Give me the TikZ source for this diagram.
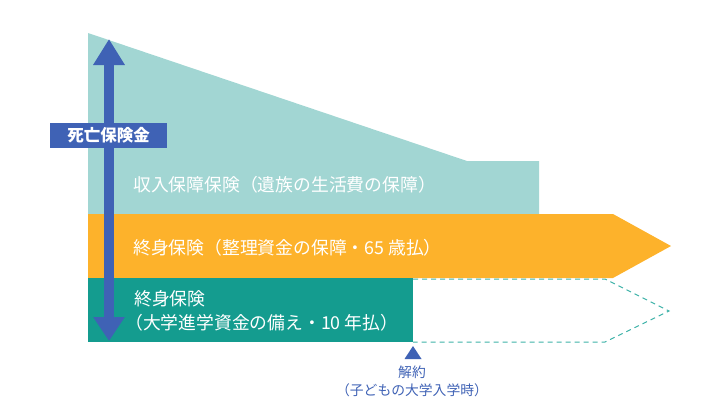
\documentclass[tikz,border=0pt]{standalone}
\usepackage{fontspec}
\setmainfont{Noto Sans CJK JP}
\usetikzlibrary{arrows.meta}
\definecolor{lteal}{HTML}{A2D6D3}
\definecolor{orng}{HTML}{FDB22B}
\definecolor{dteal}{HTML}{149C8F}
\definecolor{blu}{HTML}{3F62B5}
\definecolor{dashc}{HTML}{3DB2A8}
\tikzset{
  bandtext/.style={anchor=west, inner sep=0pt, text=white, font=\fontsize{17.8}{22}\selectfont, align=left},
  notetext/.style={inner sep=0pt, text=blu, font=\fontsize{13.8}{16}\selectfont},
}
\begin{document}
\begin{tikzpicture}[x=1pt,y=-1pt]
\useasboundingbox (0,0) rectangle (722,408);
% bands
\fill[lteal] (88,33) -- (467,161) -- (539,161) -- (539,214) -- (88,214) -- cycle;
\fill[orng] (88,214) -- (613,214) -- (671,246) -- (613,278) -- (88,278) -- cycle;
\fill[dteal] (88,278) rectangle (413,342);
\draw[dashc, dashed, line width=1pt, dash pattern=on 5pt off 4pt] (413,279) -- (605,279) -- (669,311) -- (605,342) -- (413,342);
% texts
\node[bandtext] (t1) at (133,185) {収入保障保険（遺族の生活費の保障）};
\node[bandtext] (t2) at (133,248) {終身保険（整理資金の保障・65 歳払）};
\node[bandtext] (t3) at (134,299) {終身保険};
\node[bandtext] (t4) at (125,323) {（大学進学資金の備え・10 年払）};
% vertical arrow
\coordinate (atop) at (109,39);
\coordinate (abot) at (109,341);
\draw[blu, line width=10pt, {Triangle[length=26pt,width=30pt]}-{Triangle[length=24pt,width=30pt]}] (atop) -- (abot);
\node[fill=blu, text=white, font=\bfseries\fontsize{16.5}{18}\selectfont, minimum width=117pt, minimum height=25pt, inner sep=0pt] (lbl) at (108.5,135.5) {死亡保険金};
% cancellation marker
\fill[blu] (413,346) -- (421.5,359) -- (404.5,359) -- cycle;
\node[notetext] (n1) at (412,372) {解約};
\node[notetext] (n2) at (412,390) {（子どもの大学入学時）};
\end{tikzpicture}
\end{document}
